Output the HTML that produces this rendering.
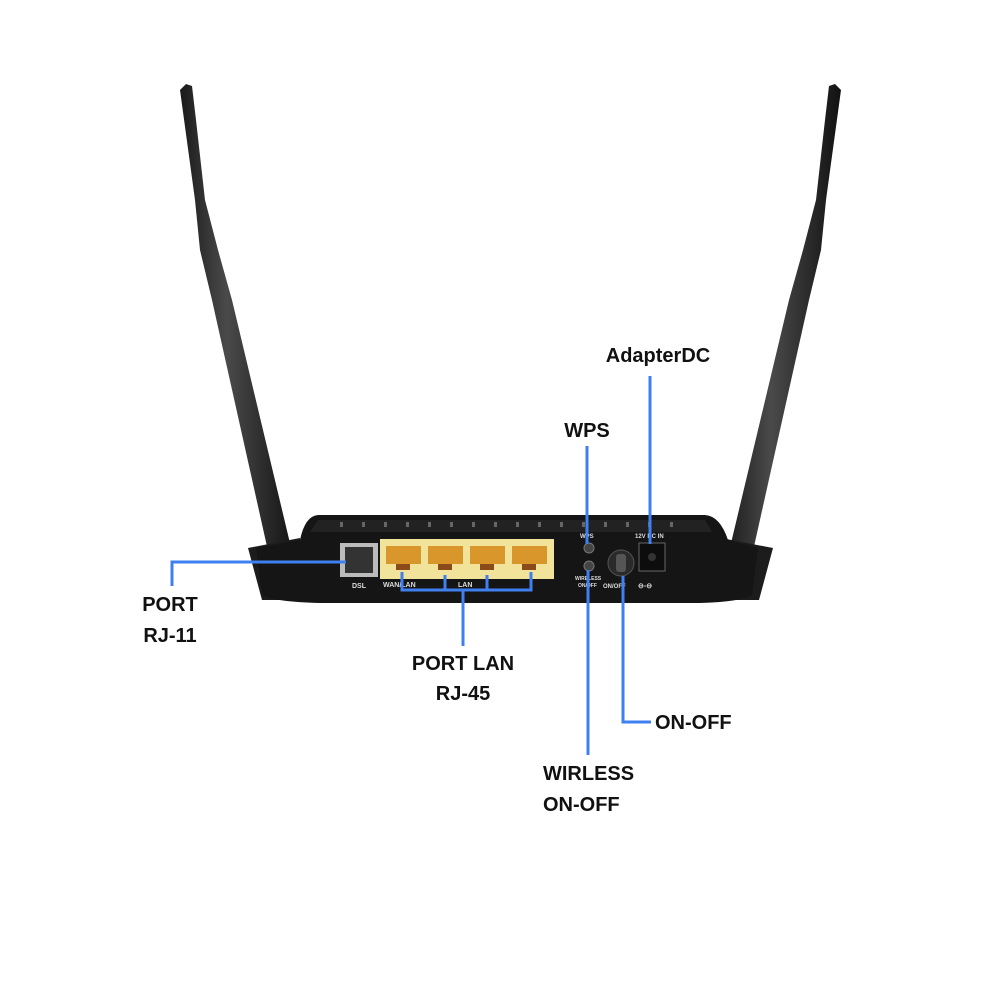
<!DOCTYPE html>
<html><head><style>
html,body{margin:0;padding:0;background:#fff;}
svg{display:block}
text{font-family:"Liberation Sans",sans-serif;font-weight:bold;font-size:20px;fill:#111;}
</style></head><body>
<svg width="1000" height="1000" viewBox="0 0 1000 1000">
<defs>
<linearGradient id="ant" x1="0" x2="1" y1="0" y2="0">
<stop offset="0" stop-color="#1a1a1a"/><stop offset="0.4" stop-color="#4a4a4a"/><stop offset="1" stop-color="#111"/>
</linearGradient>
</defs>
<polygon points="180,90 186,84 192,86 196,120 205,200 218,250 232,300 294,560 297,598 272,598 270,560 212,300 200,250 195,200" fill="url(#ant)"/>
<polygon points="841,90 835,84 829,86 825,120 816,200 803,250 789,300 727,560 724,598 749,598 751,560 809,300 821,250 826,200" fill="url(#ant)"/>
<path d="M248,548 L300,538 L310,600 L262,600 Z" fill="#1c1c1c"/>
<path d="M773,548 L721,538 L711,600 L759,600 Z" fill="#1c1c1c"/>
<path d="M318,515 L705,515 Q720,516 728,540 L758,548 L752,595 Q740,602 700,603 L320,603 Q275,602 262,595 L256,548 L300,540 Q305,516 318,515 Z" fill="#151515"/>
<path d="M318,520 L705,520 L712,532 L310,532 Z" fill="#222"/>
<g fill="#666">
<rect x="340" y="522" width="3" height="5"/><rect x="362" y="522" width="3" height="5"/><rect x="384" y="522" width="3" height="5"/><rect x="406" y="522" width="3" height="5"/><rect x="428" y="522" width="3" height="5"/><rect x="450" y="522" width="3" height="5"/><rect x="472" y="522" width="3" height="5"/><rect x="494" y="522" width="3" height="5"/><rect x="516" y="522" width="3" height="5"/><rect x="538" y="522" width="3" height="5"/><rect x="560" y="522" width="3" height="5"/><rect x="582" y="522" width="3" height="5"/><rect x="604" y="522" width="3" height="5"/><rect x="626" y="522" width="3" height="5"/><rect x="648" y="522" width="3" height="5"/><rect x="670" y="522" width="3" height="5"/>
</g>
<rect x="340" y="543" width="38" height="34" fill="#bbb"/>
<rect x="345" y="547" width="28" height="26" fill="#333"/>
<text x="352" y="588" style="font-size:7px;fill:#ddd">DSL</text>
<rect x="380" y="539" width="174" height="40" fill="#f2e39a"/>
<g fill="#d9962a">
<rect x="386" y="546" width="35" height="18"/><rect x="428" y="546" width="35" height="18"/><rect x="470" y="546" width="35" height="18"/><rect x="512" y="546" width="35" height="18"/>
</g>
<g fill="#8a4a1a">
<rect x="396" y="564" width="14" height="6"/><rect x="438" y="564" width="14" height="6"/><rect x="480" y="564" width="14" height="6"/><rect x="522" y="564" width="14" height="6"/>
</g>
<text x="383" y="587" style="font-size:7px;fill:#ddd">WAN/LAN</text>
<text x="458" y="587" style="font-size:7px;fill:#ddd">LAN</text>
<text x="580" y="538" style="font-size:6px;fill:#ddd">WPS</text>
<circle cx="589" cy="548" r="5" fill="#444" stroke="#777"/>
<circle cx="589" cy="566" r="5" fill="#444" stroke="#777"/>
<text x="575" y="580" style="font-size:5px;fill:#ddd">WIRELESS</text>
<text x="578" y="587" style="font-size:5px;fill:#ddd">ON/OFF</text>
<circle cx="621" cy="563" r="13" fill="#2a2a2a" stroke="#555"/>
<rect x="616" y="554" width="10" height="18" rx="3" fill="#555"/>
<text x="603" y="588" style="font-size:6px;fill:#ddd">ON/OFF</text>
<text x="635" y="538" style="font-size:6px;fill:#ddd">12V DC IN</text>
<rect x="639" y="543" width="26" height="28" fill="#0d0d0d" stroke="#666"/>
<circle cx="652" cy="557" r="4" fill="#333"/>
<text x="638" y="588" style="font-size:7px;fill:#ddd">⊖-⊖</text>
<g stroke="#3f7ff0" stroke-width="3" fill="none">
<polyline points="346,562 172,562 172,586"/>
<polyline points="402,572 402,590 531,590 531,572"/>
<line x1="445" y1="575" x2="445" y2="590"/>
<line x1="487" y1="575" x2="487" y2="590"/>
<line x1="463" y1="590" x2="463" y2="646"/>
<line x1="587" y1="446" x2="587" y2="544"/>
<line x1="588" y1="570" x2="588" y2="755"/>
<polyline points="623,576 623,722 651,722"/>
<line x1="650" y1="376" x2="650" y2="544"/>
</g>
<text x="170" y="611" text-anchor="middle">PORT</text>
<text x="170" y="642" text-anchor="middle">RJ-11</text>
<text x="463" y="670" text-anchor="middle">PORT LAN</text>
<text x="463" y="700" text-anchor="middle">RJ-45</text>
<text x="587" y="437" text-anchor="middle">WPS</text>
<text x="658" y="362" text-anchor="middle">AdapterDC</text>
<text x="655" y="729">ON-OFF</text>
<text x="543" y="780">WIRLESS</text>
<text x="543" y="811">ON-OFF</text>
</svg>
</body></html>
